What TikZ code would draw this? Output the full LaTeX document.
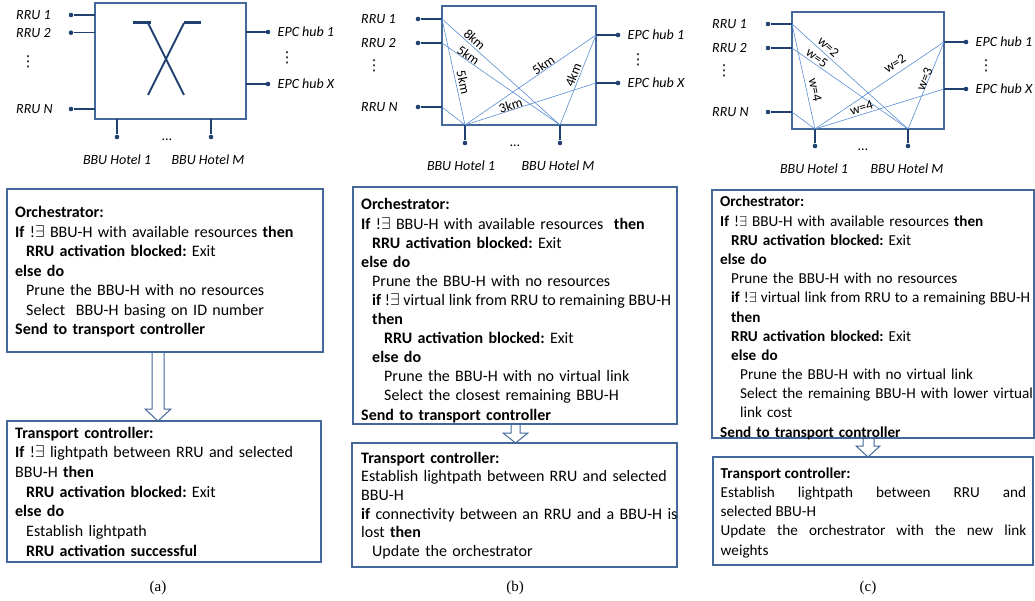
\documentclass[tikz,border=0pt]{standalone}
\usepackage{fontspec}
\setmainfont{Carlito}
\newfontfamily\capfont{Liberation Serif}
\newfontfamily\symfont{DejaVu Sans}
\usetikzlibrary{positioning}
\frenchspacing
\definecolor{boxblue}{RGB}{68,104,154}
\definecolor{stubblue}{RGB}{32,64,112}
\definecolor{linkblue}{RGB}{90,140,210}
\newcommand{\ia}{\hspace*{11pt}}
\newcommand{\ib}{\hspace*{23pt}}
\newcommand{\tightline}[2]{\hbox to #1{\spaceskip=0.226em plus 0.1em minus 0.13em\relax #2}}
\tikzset{
  switchbox/.style={draw=boxblue, line width=1.2pt, inner sep=0pt, outer sep=0pt, anchor=north west},
  algbox/.style={draw=boxblue, line width=1.3pt, inner sep=0pt, outer sep=0pt, anchor=north west},
  algtext/.style={inner sep=0pt, anchor=base west, align=left},
  port/.style={circle, fill=stubblue, inner sep=0pt, minimum size=4.6pt},
  stub/.style={draw=stubblue, line width=1.3pt},
  vlink/.style={draw=linkblue, line width=0.6pt},
  plbl/.style={inner sep=0pt, font=\fontsize{14}{16}\itshape},
  vdts/.style={inner sep=0pt, font=\fontsize{15}{16}\symfont},
  hdts/.style={inner sep=0pt, font=\fontsize{14}{16}\selectfont},
  wlbl/.style={sloped, above, inner sep=1pt, font=\fontsize{13.5}{14}\selectfont},
  fatarrow/.style={draw=boxblue, line width=1pt},
  caption/.style={inner sep=0pt, font=\fontsize{15}{17}\capfont},
}
\begin{document}
\begin{tikzpicture}[x=1pt,y=-1pt]
\useasboundingbox (0,0) rectangle (1035,601);

% (a) switch
\node[switchbox, minimum width=151pt, minimum height=116pt] (swA) at (95,3) {};
\node[port] (r1a) at (71,15) {};
\node[port] (r2a) at (71,32.7) {};
\node[port] (rNa) at (71,109) {};
\node[port] (e1a) at (268,32) {};
\node[port] (eXa) at (268,84) {};
\node[port] (h1a) at (117,137) {};
\node[port] (h2a) at (211,137) {};
\foreach \p in {r1a,r2a,rNa} \draw[stub] (\p) -- (\p -| swA.west);
\foreach \p in {e1a,eXa} \draw[stub] (\p) -- (\p -| swA.east);
\foreach \p in {h1a,h2a} \draw[stub] (\p) -- (\p |- swA.south);
\node[plbl, anchor=west] (lr1a) at (16,15) {RRU 1};
\node[plbl, anchor=west] (lr2a) at (16,32.7) {RRU 2};
\node[plbl, anchor=west] (lrNa) at (16,109) {RRU N};
\node[plbl, right=7pt of e1a] (le1a) {EPC hub 1};
\node[plbl, right=7pt of eXa] (leXa) {EPC hub X};
\node[plbl, below=15pt of h1a] (lh1a) {BBU Hotel 1};
\node[plbl, below=15pt of h2a, xshift=-3pt] (lh2a) {BBU Hotel M};
\node[vdts] (vra) at (28,62) {⋮};
\node[vdts] (vea) at (287,58) {⋮};
\node[hdts] (hda) at (167,140) {\ldots};
% cross-connect symbol
\draw[stubblue, line width=3pt] (133,23) -- (151,23);
\draw[stubblue, line width=3pt] (184,23) -- (201,23);
\draw[stubblue, line width=2pt] (148,23) -- (184,95);
\draw[stubblue, line width=2pt] (184,23) -- (148,95);

% (b) switch
\node[switchbox, minimum width=154pt, minimum height=119pt] (swB) at (442,6) {};
\node[port] (r1b) at (418,19) {};
\node[port] (r2b) at (418,43) {};
\node[port] (rNb) at (418,107) {};
\node[port] (e1b) at (618,35) {};
\node[port] (eXb) at (618,83) {};
\node[port] (h1b) at (465,143) {};
\node[port] (h2b) at (560,143) {};
\foreach \p in {r1b,r2b,rNb} {
  \draw[stub] (\p) -- (\p -| swB.west);
  \coordinate (in-\p) at (\p -| swB.west);
}
\foreach \p in {e1b,eXb} {
  \draw[stub] (\p) -- (\p -| swB.east);
  \coordinate (in-\p) at (\p -| swB.east);
}
\foreach \p in {h1b,h2b} {
  \draw[stub] (\p) -- (\p |- swB.south);
  \coordinate (in-\p) at (\p |- swB.south);
}
\draw[vlink] (in-r1b) -- node[wlbl, pos=0.61, inner sep=2.5pt] {5km} (in-h1b);
\draw[vlink] (in-r1b) -- node[wlbl, pos=0.24, inner sep=1.5pt] {8km} (in-h2b);
\draw[vlink] (in-r2b) -- node[wlbl, pos=0.2, inner sep=0pt] {5km} (in-h2b);
\draw[vlink] (in-rNb) -- (in-h1b);
\draw[vlink] (in-h1b) -- node[wlbl, pos=0.62, inner sep=0pt] {5km} (in-e1b);
\draw[vlink] (in-h2b) -- node[wlbl, pos=0.53, inner sep=1.5pt] {4km} (in-e1b);
\draw[vlink] (in-h1b) -- node[wlbl, pos=0.36, inner sep=0pt] {3km} (in-eXb);
\node[plbl, anchor=west] (lr1b) at (361,19) {RRU 1};
\node[plbl, anchor=west] (lr2b) at (361,43) {RRU 2};
\node[plbl, anchor=west] (lrNb) at (361,107) {RRU N};
\node[plbl, right=7pt of e1b] (le1b) {EPC hub 1};
\node[plbl, right=7pt of eXb] (leXb) {EPC hub X};
\node[plbl, below=15pt of h1b, xshift=-4pt] (lh1b) {BBU Hotel 1};
\node[plbl, below=15pt of h2b, xshift=-2pt] (lh2b) {BBU Hotel M};
\node[vdts] (vrb) at (374,66) {⋮};
\node[vdts] (veb) at (638,60) {⋮};
\node[hdts] (hdb) at (515,146) {\ldots};

% (c) switch
\node[switchbox, minimum width=152pt, minimum height=117pt] (swC) at (792,12) {};
\node[port] (r1c) at (768,24) {};
\node[port] (r2c) at (768,48) {};
\node[port] (rNc) at (768,112) {};
\node[port] (e1c) at (966,42) {};
\node[port] (eXc) at (966,89) {};
\node[port] (h1c) at (815,146) {};
\node[port] (h2c) at (908,146) {};
\foreach \p in {r1c,r2c,rNc} {
  \draw[stub] (\p) -- (\p -| swC.west);
  \coordinate (in-\p) at (\p -| swC.west);
}
\foreach \p in {e1c,eXc} {
  \draw[stub] (\p) -- (\p -| swC.east);
  \coordinate (in-\p) at (\p -| swC.east);
}
\foreach \p in {h1c,h2c} {
  \draw[stub] (\p) -- (\p |- swC.south);
  \coordinate (in-\p) at (\p |- swC.south);
}
\draw[vlink] (in-r1c) -- node[wlbl, pos=0.645, inner sep=4pt] {w=4} (in-h1c);
\draw[vlink] (in-r1c) -- node[wlbl, pos=0.27, inner sep=3pt] {w=2} (in-h2c);
\draw[vlink] (in-r2c) -- node[wlbl, pos=0.185, inner sep=1.5pt] {w=5} (in-h2c);
\draw[vlink] (in-rNc) -- (in-h1c);
\draw[vlink] (in-h1c) -- node[wlbl, pos=0.66, inner sep=5pt] {w=2} (in-e1c);
\draw[vlink] (in-h2c) -- node[wlbl, pos=0.556, inner sep=-1pt] {w=3} (in-e1c);
\draw[vlink] (in-h1c) -- node[wlbl, pos=0.375, inner sep=1.7pt] {w=4} (in-eXc);
\node[plbl, anchor=west] (lr1c) at (712,24) {RRU 1};
\node[plbl, anchor=west] (lr2c) at (712,48) {RRU 2};
\node[plbl, anchor=west] (lrNc) at (712,112) {RRU N};
\node[plbl, right=7pt of e1c] (le1c) {EPC hub 1};
\node[plbl, right=7pt of eXc] (leXc) {EPC hub X};
\node[plbl, below=15pt of h1c, xshift=-1pt] (lh1c) {BBU Hotel 1};
\node[plbl, below=15pt of h2c, xshift=-1pt] (lh2c) {BBU Hotel M};
\node[vdts] (vrc) at (724,71) {⋮};
\node[vdts] (vec) at (986,66) {⋮};
\node[hdts] (hdc) at (863,150) {\ldots};

% (a) algorithm
\node[algbox, minimum width=316pt, minimum height=163pt] (orchA) at (7,189) {};
\node[algtext, text width=400pt, font=\fontsize{16}{19.5}\selectfont] (txtOA) at (15,218) {%
\textbf{Orchestrator:}\\
\textbf{If} !$\exists$ BBU-H with available resources \textbf{then}\\
\ia\textbf{RRU activation blocked:} Exit\\
\textbf{else do}\\
\ia Prune the BBU-H with no resources\\
\ia Select\ \ BBU-H basing on ID number\\
\textbf{Send to transport controller}};
\draw[fatarrow] (152,352) -- (152,409) -- (145,409) -- (158,421) -- (171,409) -- (164,409) -- (164,352);
\node[algbox, minimum width=314pt, minimum height=141pt] (tranA) at (7,421) {};
\node[algtext, text width=400pt, font=\fontsize{16}{19.7}\selectfont] (txtTA) at (15,438) {%
\textbf{Transport controller:}\\
\textbf{If} !$\exists$ lightpath between RRU and selected\\
BBU-H \textbf{then}\\
\ia\textbf{RRU activation blocked:} Exit\\
\textbf{else do}\\
\ia Establish lightpath\\
\ia\textbf{RRU activation successful}};
\node[caption] (capA) at (158,588) {(a)};

% (b) algorithm
\node[algbox, minimum width=324pt, minimum height=237pt] (orchB) at (353,187) {};
\node[algtext, text width=400pt, font=\fontsize{16}{19.1}\selectfont] (txtOB) at (361,210) {%
\textbf{Orchestrator:}\\
\textbf{If} !$\exists$ BBU-H with available resources\ \ \textbf{then}\\
\ia\textbf{RRU activation blocked:} Exit\\
\textbf{else do}\\
\ia Prune the BBU-H with no resources\\
\ia\tightline{299pt}{\textbf{if} !$\exists$ virtual link from RRU to remaining BBU-H}\\
\ia\textbf{then}\\
\ib\textbf{RRU activation blocked:} Exit\\
\ia\textbf{else do}\\
\ib Prune the BBU-H with no virtual link\\
\ib Select the closest remaining BBU-H\\
\textbf{Send to transport controller}};
\draw[fatarrow] (511,424) -- (511,433) -- (503,433) -- (515.5,443) -- (528,433) -- (520,433) -- (520,424);
\node[algbox, minimum width=325pt, minimum height=124pt] (tranB) at (352,443) {};
\node[algtext, text width=400pt, font=\fontsize{16}{18.7}\selectfont] (txtTB) at (361,463) {%
\textbf{Transport controller:}\\
Establish lightpath between RRU and selected\\
BBU-H\\
\textbf{if} connectivity between an RRU and a BBU-H is\\
lost \textbf{then}\\
\ia Update the orchestrator};
\node[caption] (capB) at (515,588) {(b)};

% (c) algorithm
\node[algbox, minimum width=322pt, minimum height=248pt] (orchC) at (712,190) {};
\node[algtext, text width=400pt, font=\fontsize{15.2}{19.17}\selectfont] (txtOC) at (720,207) {%
\textbf{Orchestrator:}\\
\textbf{If} !$\exists$ BBU-H with available resources \textbf{then}\\
\ia\textbf{RRU activation blocked:} Exit\\
\textbf{else do}\\
\ia Prune the BBU-H with no resources\\
\ia\tightline{299pt}{\textbf{if} !$\exists$ virtual link from RRU to a remaining BBU-H}\\
\ia\textbf{then}\\
\ia\textbf{RRU activation blocked:} Exit\\
\ia\textbf{else do}\\
\hspace*{20pt}Prune the BBU-H with no virtual link\\
\hspace*{20pt}Select the remaining BBU-H with lower virtual\\
\hspace*{20pt}link cost\\
\textbf{Send to transport controller}};
\draw[fatarrow] (863,438) -- (863,446) -- (856,446) -- (868,457) -- (880,446) -- (874,446) -- (874,438);
\node[algbox, minimum width=320pt, minimum height=108pt] (tranC) at (713,457) {};
\node[algtext, text width=305.5pt, align=justify, font=\fontsize{15.2}{19.3}\selectfont] (txtTC) at (720.5,478) {%
\textbf{Transport controller:}\\
Establish lightpath between RRU and\linebreak selected BBU-H\\
Update the orchestrator with the new link\linebreak weights};
\node[caption] (capC) at (868,588) {(c)};
\end{tikzpicture}
\end{document}
